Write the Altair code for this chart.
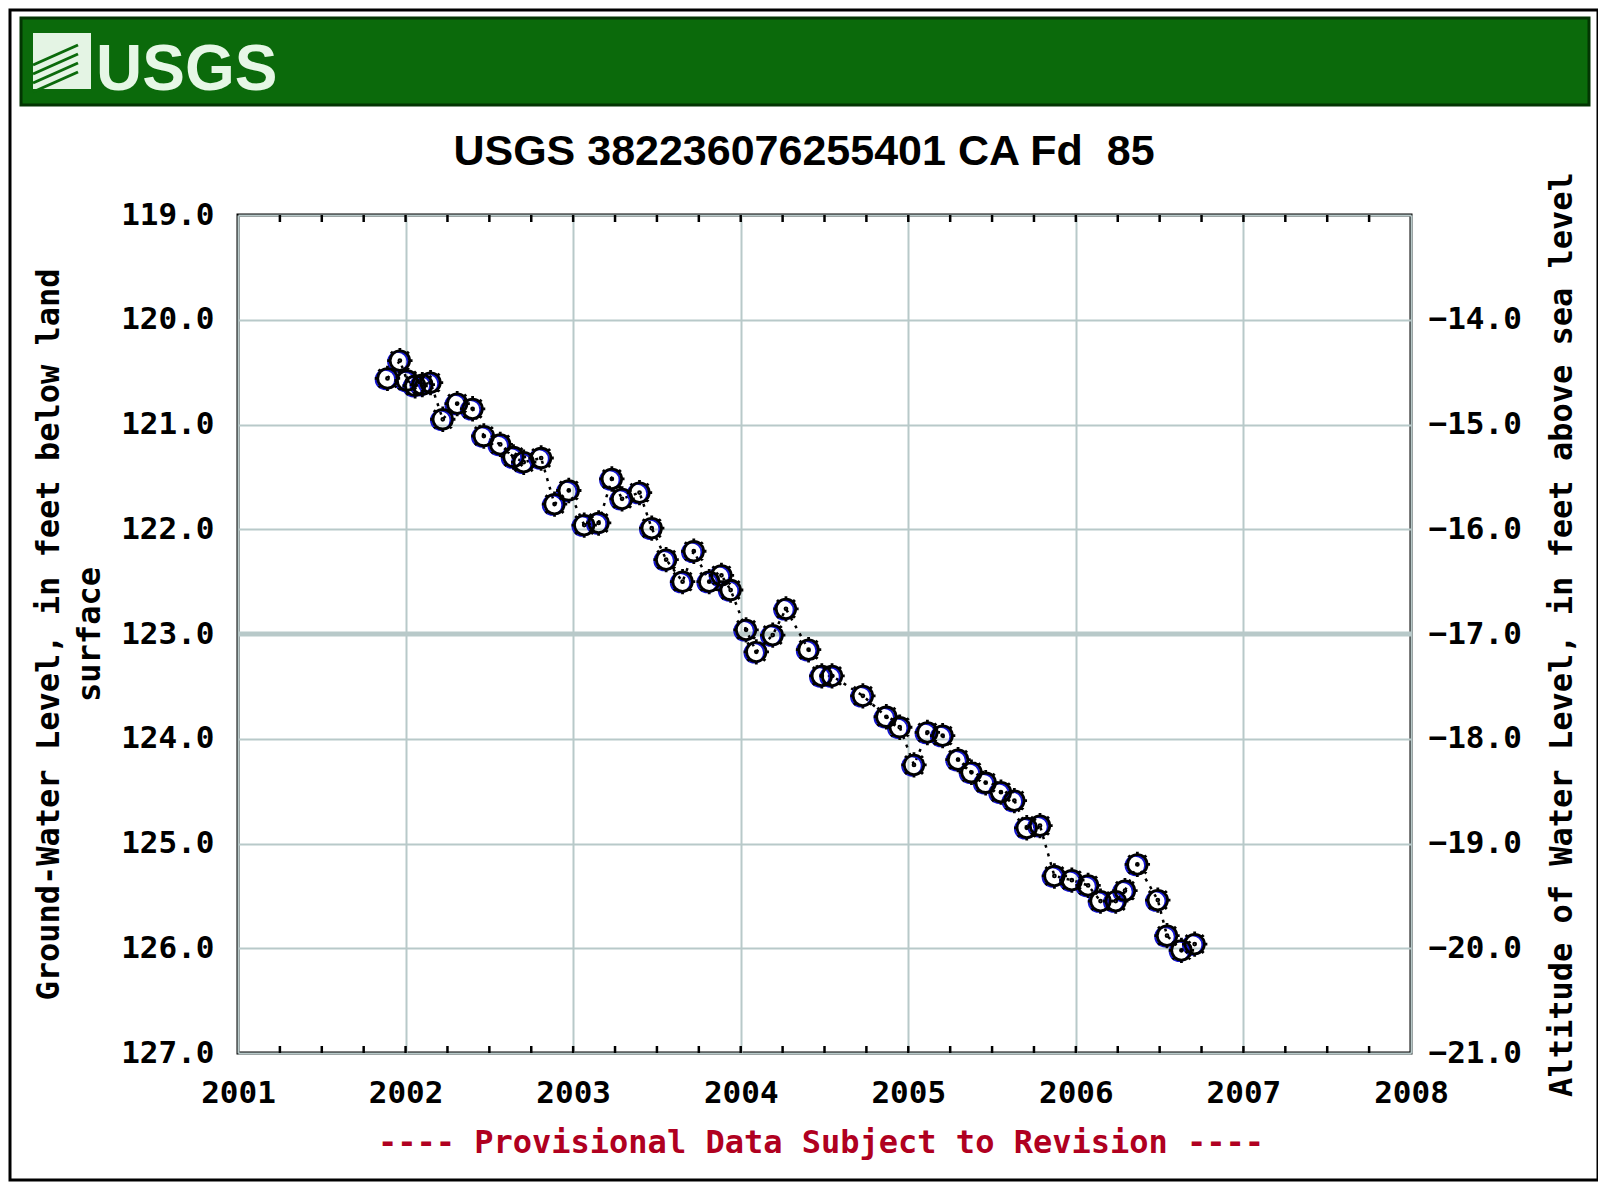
import altair as alt
import pandas as pd

# ---- data ----
years = [2001.892, 2001.966, 2002.009, 2002.057, 2002.100, 2002.149, 2002.222, 2002.308, 2002.400, 2002.467,
         2002.565, 2002.644, 2002.705, 2002.809, 2002.889, 2002.974, 2003.066, 2003.152, 2003.231, 2003.292,
         2003.396, 2003.469, 2003.555, 2003.653, 2003.720, 2003.812, 2003.885, 2003.940, 2004.032, 2004.093,
         2004.191, 2004.270, 2004.405, 2004.484, 2004.545, 2004.729, 2004.869, 2004.949, 2005.034, 2005.114,
         2005.205, 2005.297, 2005.377, 2005.462, 2005.553, 2005.633, 2005.707, 2005.786, 2005.872, 2005.976,
         2006.073, 2006.147, 2006.238, 2006.293, 2006.367, 2006.489, 2006.544, 2006.630, 2006.709]
depths = [120.56, 120.39, 120.58, 120.63, 120.62, 120.60, 120.95, 120.80, 120.85, 121.11,
          121.19, 121.31, 121.36, 121.32, 121.76, 121.63, 121.96, 121.94, 121.52, 121.71,
          121.65, 121.99, 122.29, 122.50, 122.21, 122.50, 122.44, 122.58, 122.96, 123.17,
          123.01, 122.76, 123.15, 123.40, 123.40, 123.59, 123.79, 123.89, 124.25, 123.94,
          123.97, 124.20, 124.32, 124.42, 124.51, 124.59, 124.85, 124.83, 125.31, 125.35,
          125.40, 125.55, 125.55, 125.45, 125.20, 125.54, 125.88, 126.02, 125.96]

year_ticks = [2001, 2002, 2003, 2004, 2005, 2006, 2007, 2008]
depth_ticks = [119.0, 120.0, 121.0, 122.0, 123.0, 124.0, 125.0, 126.0, 127.0]
altitude_ticks = [-14.0, -15.0, -16.0, -17.0, -18.0, -19.0, -20.0, -21.0]
emphasis_depth = [123.0]
quarter_ticks = [2001 + q / 4 for q in range(1, 28)]

title_text = "USGS 382236076255401 CA Fd\u00a0 85"
left_title = ["Ground-Water Level, in feet below land", "surface"]
right_title = "Altitude of Water Level, in feet above sea level"
footer_text = "---- Provisional Data Subject to Revision ----"

W, H = 1173, 838
MONO = "DejaVu Sans Mono"
SANS = "Liberation Sans, Arial, sans-serif"

df = pd.DataFrame({"year": years, "depth": depths})
one = alt.Data(values=[{}])

xscale = alt.Scale(domain=[2001, 2008], nice=False, zero=False)
yscale = alt.Scale(domain=[119, 127], nice=False, zero=False, reverse=True)

xenc = alt.X("year:Q", scale=xscale,
             axis=alt.Axis(values=year_ticks, format="d", title=None, grid=True,
                           labelPadding=25, labelFontSize=31, labelFlush=False))
yenc = alt.Y("depth:Q", scale=yscale,
             axis=alt.Axis(values=depth_ticks, format=".1f", grid=True, orient="left",
                           title=left_title, titleAngle=-90, titleX=-190, titleY=H / 2,
                           titleAlign="center", titleBaseline="middle", titleLineHeight=41,
                           labelPadding=24, labelFlush=False))

# decorations (frame / header)
frame = alt.Chart(one).mark_rect(fillOpacity=0, stroke="black", strokeWidth=3).encode(
    x=alt.value(-228), x2=alt.value(1360), y=alt.value(-205), y2=alt.value(965))
header = alt.Chart(one).mark_rect(fill="#0b6a0b", stroke="#033503", strokeWidth=3).encode(
    x=alt.value(-217), x2=alt.value(1351), y=alt.value(-197), y2=alt.value(-110))
logo_box = alt.Chart(one).mark_rect(fill="#e4f4e4").encode(
    x=alt.value(-205), x2=alt.value(-147), y=alt.value(-182), y2=alt.value(-126))
waves = [
    alt.Chart(one).mark_rule(color="#0b6a0b", strokeWidth=3).encode(
        x=alt.value(-205), x2=alt.value(-160), y=alt.value(-150 + 9 * k), y2=alt.value(-170 + 9 * k))
    for k in range(4)
]
logo_text = alt.Chart(one).mark_text(text="USGS", font=SANS, fontSize=64, fontWeight="bold",
                                      color="#e6f7e6", align="left", baseline="alphabetic").encode(
    x=alt.value(-142), y=alt.value(-125))
title = alt.Chart(one).mark_text(text=title_text, font=SANS, fontSize=43, fontWeight="bold",
                                 color="black", align="center", baseline="middle").encode(
    x=alt.value(566), y=alt.value(-63))
footer = alt.Chart(one).mark_text(text=footer_text, font=MONO, fontSize=32, fontWeight="bold",
                                  color="#b00020", align="center", baseline="middle").encode(
    x=alt.value(583), y=alt.value(928))

emph = alt.Chart(pd.DataFrame({"depth": emphasis_depth})).mark_rule(
    color="#b8c9c9", strokeWidth=5).encode(y=alt.Y("depth:Q", scale=yscale))

qdf = pd.DataFrame({"year": quarter_ticks})
qtop = alt.Chart(qdf).mark_rule(color="black", strokeWidth=2.5).encode(
    x=alt.X("year:Q", scale=xscale), y=alt.value(0), y2=alt.value(7))
qbot = alt.Chart(qdf).mark_rule(color="black", strokeWidth=2.5).encode(
    x=alt.X("year:Q", scale=xscale), y=alt.value(H - 7), y2=alt.value(H))

line = alt.Chart(df).mark_line(color="black", strokeWidth=2.5, strokeDash=[3, 6]).encode(
    x=xenc, y=yenc, order="year:Q")

ring = "M1,0A1,1,0,1,1,-1,0A1,1,0,1,1,1,0Z"
spikes = ("M0,-1L0,-1.3M0,1L0,1.3M-1,0L-1.3,0M1,0L1.3,0"
          "M0.71,0.71L0.92,0.92M-0.71,-0.71L-0.92,-0.92M0.71,-0.71L0.92,-0.92M-0.71,0.71L-0.92,0.92")
dot = "M0.1,0A0.1,0.1,0,1,1,-0.1,0A0.1,0.1,0,1,1,0.1,0Z"

blue_pts = alt.Chart(df).mark_point(shape="circle", filled=False, color="#1414d2", strokeWidth=2,
                                    size=380, opacity=1).encode(
    x=alt.X("year:Q", scale=xscale), y=alt.Y("depth:Q", scale=yscale),
    xOffset=alt.value(-2), yOffset=alt.value(1))
pts = alt.Chart(df).mark_point(shape=ring + spikes + dot, filled=False, color="black",
                               strokeWidth=2.8, size=380, opacity=1).encode(
    x=alt.X("year:Q", scale=xscale), y=alt.Y("depth:Q", scale=yscale))

depth_layers = alt.layer(frame, header, logo_box, *waves, logo_text, title, footer,
                         emph, qtop, qbot, line, blue_pts, pts)

right = alt.Chart(pd.DataFrame({"alt": altitude_ticks})).mark_point(opacity=0).encode(
    y=alt.Y("alt:Q", scale=alt.Scale(domain=[-21, -13], nice=False, zero=False),
            axis=alt.Axis(orient="right", values=altitude_ticks, format=".1f", grid=False,
                          title=right_title, titleAngle=-90, titleX=150, titleY=H / 2,
                          titleAlign="center", titleBaseline="middle", labelPadding=17,
                          labelFlush=False)))

chart = alt.layer(depth_layers, right).resolve_scale(y="independent").properties(
    width=W, height=H,
    autosize=alt.AutoSizeParams(type="none"),
    padding={"left": 230, "top": 207, "right": 187, "bottom": 133},
    background="white",
).configure_view(stroke="black", strokeWidth=3).configure_axis(
    labelFont=MONO, labelFontWeight="bold", labelFontSize=31, labelColor="black",
    titleFont=MONO, titleFontWeight="bold", titleFontSize=32, titleColor="black",
    gridColor="#b8c9c9", gridWidth=2, gridOpacity=1, domain=False, ticks=False,
)

chart.save("out.html", embed_options={"renderer": "svg", "actions": False})
